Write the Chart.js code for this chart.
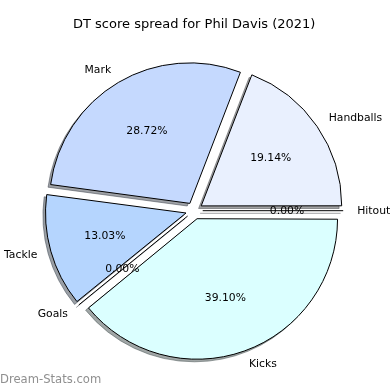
<!DOCTYPE html>
<html>
<head>
<meta charset="utf-8">
<script src="https://cdn.jsdelivr.net/npm/chart.js@4.4.1/dist/chart.umd.min.js"></script>
<style>
  html, body { margin: 0; padding: 0; background: #fff; }
  #wrap { width: 390px; height: 390px; }
</style>
</head>
<body>
<div id="wrap"><canvas id="pie" width="390" height="390"></canvas></div>
<script>
// slices in the order the original goes round (anti-clockwise from 3 o'clock)
const categories = ['Handballs', 'Mark', 'Tackle', 'Goals', 'Kicks', 'Hitout'];
const shares = [19.14, 28.72, 13.03, 0.00, 39.10, 0.00];
const sliceColors = ['#e9f0fe', '#c5d9fe', '#b5d5fe', '#cfe3ff', '#dbffff', '#eef4ff'];
const chartTitle = 'DT score spread for Phil Davis (2021)';
const watermark = 'Dream-Stats.com';

// Chart.js runs clockwise, so feed it reversed
const labels = categories.slice().reverse();
const values = shares.slice().reverse();
const colors = sliceColors.slice().reverse();

const FONT = "'DejaVu Sans', sans-serif";
const SHADOW_DX = -2.6, SHADOW_DY = 2.6;

function shadowOf(hex) {
    const n = parseInt(hex.slice(1), 16);
    const r = Math.round(0.3 * (n >> 16 & 255));
    const g = Math.round(0.3 * (n >> 8 & 255));
    const b = Math.round(0.3 * (n & 255));
    return `rgba(${r},${g},${b},0.5)`;
}

// Chart.js grows an exploded slice by offset*(1-sin(circ)); undo that so
// every slice keeps the same radius like the original
const sameRadiusPlugin = {
    id: 'sameRadius',
    afterUpdate(chart) {
        const meta = chart.getDatasetMeta(0);
        meta.data.forEach((arc) => {
            const off = (arc.options.offset || 0) / 4;
            const circ = arc.endAngle - arc.startAngle;
            const fix = 1 - Math.sin(Math.min(Math.PI, circ || 0));
            arc.$baseRadius = arc.outerRadius;
            arc.outerRadius = arc.outerRadius - off * fix;
        });
    }
};

// where an exploded slice ends up
function sliceGeometry(arc) {
    const p = arc.getProps(['x', 'y', 'startAngle', 'endAngle'], true);
    const off = (arc.options.offset || 0) / 4;
    const mid = (p.startAngle + p.endAngle) / 2;
    return {
        cx: p.x, cy: p.y,
        ex: p.x + Math.cos(mid) * off,
        ey: p.y + Math.sin(mid) * off,
        mid,
        circ: p.endAngle - p.startAngle,
        start: p.startAngle, end: p.endAngle,
        r: arc.$baseRadius
    };
}

const shadowPlugin = {
    id: 'shadows',
    beforeDatasetsDraw(chart) {
        const ctx = chart.ctx;
        const meta = chart.getDatasetMeta(0);
        meta.data.forEach((arc, i) => {
            const g = sliceGeometry(arc);
            const sx = g.ex + SHADOW_DX, sy = g.ey + SHADOW_DY;
            const col = shadowOf(colors[i]);
            ctx.save();
            ctx.fillStyle = col;
            ctx.strokeStyle = col;
            ctx.lineWidth = 1;
            ctx.beginPath();
            if (g.circ > 0) {
                ctx.moveTo(sx, sy);
                ctx.arc(sx, sy, g.r, g.start, g.end);
                ctx.closePath();
                ctx.fill();
                ctx.stroke();
            } else {
                ctx.moveTo(sx, sy);
                ctx.lineTo(sx + Math.cos(g.mid) * g.r, sy + Math.sin(g.mid) * g.r);
                ctx.stroke();
            }
            ctx.restore();
        });
    }
};

const labelPlugin = {
    id: 'sliceLabels',
    afterDatasetsDraw(chart) {
        const ctx = chart.ctx;
        const meta = chart.getDatasetMeta(0);
        ctx.save();
        // empty slices only show up as their edge line
        meta.data.forEach((arc) => {
            const g = sliceGeometry(arc);
            if (g.circ > 0) return;
            ctx.strokeStyle = '#000';
            ctx.lineWidth = 1;
            ctx.beginPath();
            ctx.moveTo(g.ex, g.ey);
            ctx.lineTo(g.ex + Math.cos(g.mid) * g.r, g.ey + Math.sin(g.mid) * g.r);
            ctx.stroke();
        });
        ctx.fillStyle = '#000';
        ctx.font = `10.8px ${FONT}`;
        ctx.textBaseline = 'middle';
        meta.data.forEach((arc, i) => {
            const g = sliceGeometry(arc);
            const c = Math.cos(g.mid), s = Math.sin(g.mid);
            // percentage inside
            ctx.textAlign = 'center';
            ctx.fillText(values[i].toFixed(2) + '%', g.ex + c * g.r * 0.6, g.ey + s * g.r * 0.6);
            // category name outside
            const lx = g.ex + c * g.r * 1.1;
            const ly = g.ey + s * g.r * 1.1;
            ctx.textAlign = (lx - g.cx) > 0 ? 'left' : 'right';
            ctx.fillText(labels[i], lx, ly);
        });
        ctx.restore();
    }
};

const watermarkPlugin = {
    id: 'watermark',
    afterDraw(chart) {
        const ctx = chart.ctx;
        ctx.save();
        ctx.font = `11.6px ${FONT}`;
        ctx.fillStyle = '#8f8f8f';
        ctx.textAlign = 'left';
        ctx.textBaseline = 'middle';
        ctx.fillText(watermark, 0, 380);
        ctx.restore();
    }
};

Chart.defaults.font.family = FONT;

const ctx = document.getElementById('pie').getContext('2d');
new Chart(ctx, {
    type: 'pie',
    data: {
        labels: labels,
        datasets: [{
            data: values,
            backgroundColor: colors,
            borderColor: '#000',
            borderWidth: 1,
            offset: 34
        }]
    },
    options: {
        responsive: false,
        animation: false,
        events: [],
        rotation: 90,
        radius: 140.5,
        layout: { padding: { left: 0, right: 1.6, top: 0, bottom: 8.6 } },
        plugins: {
            legend: { display: false },
            tooltip: { enabled: false },
            title: {
                display: true,
                text: chartTitle,
                color: '#000',
                font: { family: FONT, size: 13, weight: 'normal' },
                padding: { top: 17.2, bottom: 7.2 }
            }
        }
    },
    plugins: [sameRadiusPlugin, shadowPlugin, labelPlugin, watermarkPlugin]
});
</script>
</body>
</html>
